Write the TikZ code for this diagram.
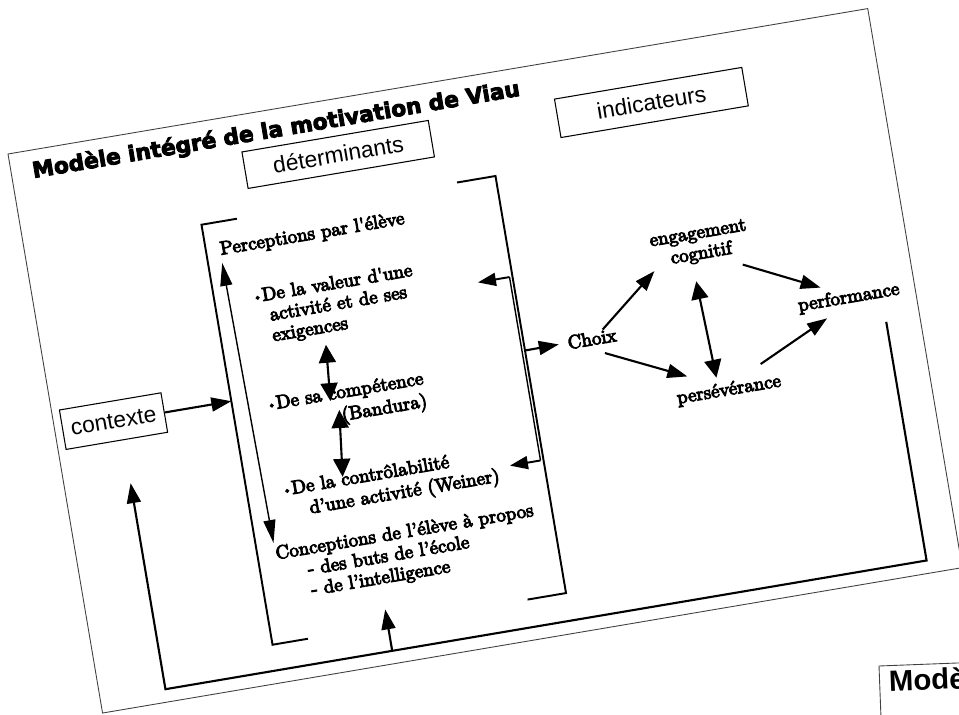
\documentclass[tikz,border=0pt]{standalone}
\usepackage{fontspec}
\newfontfamily\boxfont{Liberation Sans}
\newfontfamily\titlefont[FakeBold=4]{DejaVu Sans Bold}
\newfontfamily\nextfont{Liberation Sans Bold}
\newfontfamily\scanfont[FakeBold=5]{lmroman10-regular.otf}
\usetikzlibrary{arrows.meta}
\newcommand\blt{\raisebox{0.15ex}{\scriptsize\textbullet}}

\begin{document}
\begin{tikzpicture}[x=0.02cm,y=0.02cm,
  frame/.style={draw=black!75,line width=0.5pt},
  labelbox/.style={draw,line width=0.6pt,font=\boxfont\fontsize{13}{15}\selectfont,inner sep=0pt},
  txt/.style={font=\scanfont\fontsize{10.8}{11.8}\selectfont,inner sep=0pt,align=left,anchor=base west},
  ind/.style={font=\scanfont\fontsize{10.8}{11.8}\selectfont,inner sep=0pt,align=center,anchor=base},
  brack/.style={line width=1.1pt},
  arr/.style={line width=1.2pt,-{Triangle[length=0.4cm,width=0.28cm]}},
  dblarr/.style={line width=1.2pt,{Triangle[length=0.36cm,width=0.34cm]}-{Triangle[length=0.36cm,width=0.34cm]}},
  longarr/.style={line width=0.8pt,{Triangle[length=0.46cm,width=0.24cm]}-{Triangle[length=0.46cm,width=0.24cm]}},
  backarr/.style={line width=1.1pt,-{Triangle[length=0.36cm,width=0.26cm]}}]
\useasboundingbox (0,0) rectangle (959,-715);
\clip (0,0) rectangle (959,-715);

% next slide, underneath
\begin{scope}[shift={(879,-666)},rotate=2.2,transform shape]
 \draw[frame] (0,-60) -- (0,0) -- (120,0);
 \node[anchor=base west,inner sep=0pt,font=\nextfont\fontsize{16.7}{18}\selectfont] (nexttitle) at (9,-26) {Modè};
\end{scope}

% the tilted slide
\begin{scope}[shift={(8,-154)},rotate=9.6,transform shape]
 \draw[frame,fill=white] (0,0) rectangle (872,-567);
 \node[anchor=base west,inner sep=0pt,font=\titlefont\fontsize{12.4}{14}\selectfont] (title) at (21,-28) {Modèle intégré de la motivation de Viau};
 \node[labelbox,minimum width=3.78cm,minimum height=0.74cm] (det) at (325.5,-55.5) {déterminants};
 \node[labelbox,minimum width=3.8cm,minimum height=0.78cm] (ind) at (643,-56.5) {indicateurs};
 \node[labelbox,minimum width=2.06cm,minimum height=0.8cm] (ctx) at (59.5,-281) {contexte};

 % brackets
 \draw[brack] (215,-102) -- (179,-102) -- (179,-528) -- (215,-528);
 \draw[brack] (438,-103) -- (477,-103) -- (477,-526) -- (438,-526);
 \coordinate (lbctx) at (179,-281);
 \coordinate (rbch) at (477,-280);
 \coordinate (rbtop) at (474,-205);
 \coordinate (rbbot) at (474,-391);
 \coordinate (backtop) at (442,-205);
 \coordinate (backbot) at (443,-391);

 % determinants (multi-line nodes sit on their last line)
 \node[txt] (percep) at (193,-135) {Perceptions par l'élève};
 \node[txt] (valeur) at (217,-229) {\blt De la valeur d'une\\\hspace*{0.28cm}activité et de ses\\\hspace*{0.26cm}exigences};
 \node[txt,align=right] (compet) at (213,-319) {\blt De sa compétence\\[1.2pt](Bandura)};
 \node[txt] (control) at (214,-405) {\blt De la contrôlabilité\\[0.8pt]\hspace*{0.48cm}d’une activité (Weiner)};
 \node[txt] (concep) at (197,-486) {Conceptions de l’élève à propos\\\hspace*{0.58cm}- des buts de l’école\\\hspace*{0.58cm}- de l’intelligence};

 % indicateurs
 \node[ind] (choix) at (545,-286) {Choix};
 \node[ind] (engag) at (667,-219) {engagement\\cognitif};
 \node[ind] (perf) at (805,-287) {performance};
 \node[ind,inner ysep=6.7pt] (persev) at (671.5,-358) {persévérance};

 \draw[arr] (ctx.east) -- (lbctx);
 \draw[longarr,shorten <=2.3pt,shorten >=1.7pt] (percep.south west) -- (concep.north west);
 \draw[dblarr,shorten <=4.5pt,shorten >=-8.5pt] (valeur.-118) -- (compet.125);
 \draw[dblarr,shorten <=-9.4pt,shorten >=-2.8pt] (compet.-117) -- (control.156);

 \draw[line width=0.8pt] (rbtop) -- (rbbot);
 \draw[backarr] (rbtop) -- (backtop);
 \draw[backarr] (rbbot) -- (backbot);
 \draw[arr,shorten >=5pt] (rbch) -- (choix.west);

 \draw[arr] (choix.31) -- (engag.south west);
 \draw[arr,shorten <=12pt] (choix.-140) -- (persev.152);
 \draw[dblarr,shorten <=9.7pt,shorten >=-3.5pt] (engag.-119) -- (persev.117);
 \draw[arr,shorten <=10.8pt,shorten >=7.8pt] (engag.-40) -- (perf.147);
 \draw[arr,shorten >=10.3pt] (persev.30) -- (perf.-133);

 % feedback loop
 \coordinate (fbtop) at (838,-312);
 \coordinate (fbcorner) at (838,-554);
 \coordinate (fbleft) at (66,-554);
 \coordinate (fbctx) at (66,-345);
 \coordinate (fbfork) at (296,-554);
 \coordinate (fbbrack) at (296,-512);
 \draw[arr] (fbtop) -- (fbcorner) -- (fbleft) -- (fbctx);
 \draw[arr] (fbfork) -- (fbbrack);
\end{scope}
\end{tikzpicture}
\end{document}
